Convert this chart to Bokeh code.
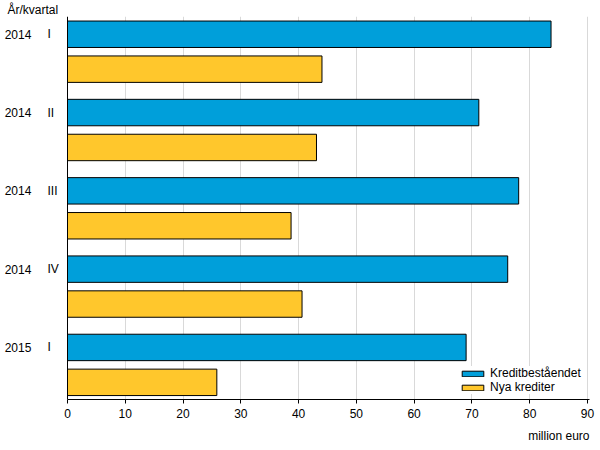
from bokeh.plotting import figure
from bokeh.models import Range1d, Legend, LegendItem, FixedTicker, ColumnDataSource, Span, Title
from bokeh.core.properties import value
from bokeh.embed import file_html
from bokeh.resources import INLINE

# ---- data ----
years = ["2014", "2014", "2014", "2014", "2015"]
quarters = ["I", "II", "III", "IV", "I"]
kreditbestandet = [83.7, 71.2, 78.1, 76.2, 69.0]
nya_krediter = [44.05, 43.1, 38.7, 40.6, 25.85]
x_ticks = [0, 10, 20, 30, 40, 50, 60, 70, 80, 90]
series_names = ["Kreditbeståendet", "Nya krediter"]
colors = ["#009FDA", "#FFC72C"]

FONT = "Liberation Sans"
TXT = "#000000"

# layout helpers (screen scale)
W, H = 600, 450
FRAME_LEFT_PX = 67          # where value 0 sits
PX_PER_UNIT_X = 5.777
X_START = -FRAME_LEFT_PX / PX_PER_UNIT_X
X_END = (W - 11) / PX_PER_UNIT_X + X_START
PITCH = 78.5                # px per group
OFFSET = 35 / PITCH         # second bar offset within group
BAR_H = 26.5 / PITCH

n = len(years)
y_blue = [i for i in range(n)]
y_yellow = [i + OFFSET for i in range(n)]

p = figure(width=W, height=H,
           x_range=Range1d(X_START, X_END),
           y_range=Range1d(4.665, -0.2268),
           y_axis_location=None,
           output_backend="svg", toolbar_location=None,
           min_border_left=0, min_border_right=11,
           min_border_top=15, min_border_bottom=51)

p.title.text = "År/kvartal"
p.title.align = "left"
p.title.offset = 7
p.title.standoff = 0
p.title.text_font = FONT
p.title.text_font_size = "12px"
p.title.text_font_style = "normal"
p.title.text_color = TXT

src_b = ColumnDataSource(dict(y=y_blue, right=kreditbestandet))
src_y = ColumnDataSource(dict(y=y_yellow, right=nya_krediter))
rb = p.hbar(y="y", right="right", left=0, height=BAR_H, source=src_b,
            fill_color=colors[0], line_color="black", line_width=1)
ry = p.hbar(y="y", right="right", left=0, height=BAR_H, source=src_y,
            fill_color=colors[1], line_color="black", line_width=1)

p.outline_line_color = None
p.ygrid.visible = False
p.xgrid.grid_line_color = "#D9D9D9"
p.xgrid.grid_line_width = 1
p.xgrid.ticker = FixedTicker(ticks=x_ticks[1:])

xa = p.xaxis[0]
xa.bounds = (0, X_END)
xa.ticker = FixedTicker(ticks=x_ticks)
xa.axis_line_color = "black"
xa.major_tick_line_color = "black"
xa.major_tick_out = 4
xa.major_tick_in = 0
xa.minor_tick_line_color = None
xa.major_label_standoff = 5
xa.major_label_text_font = FONT
xa.major_label_text_font_size = "12px"
xa.major_label_text_color = TXT

# value axis line (left edge of bars)
p.add_layout(Span(location=0, dimension="height", line_color="black", line_width=1))

# category labels
x_year = (4.2 - FRAME_LEFT_PX) / PX_PER_UNIT_X
x_q = (47 - FRAME_LEFT_PX) / PX_PER_UNIT_X
lab_src = ColumnDataSource(dict(xy=[x_year] * n, xq=[x_q] * n, y=y_blue,
                                year=years, q=quarters))
p.text(x="xy", y="y", text="year", source=lab_src, text_font=value(FONT),
       text_font_size="12px", text_color=TXT, text_baseline="middle", text_align="left")
p.text(x="xq", y="y", text="q", source=lab_src, text_font=value(FONT),
       text_font_size="12px", text_color=TXT, text_baseline="middle", text_align="left")

unit = Title(text="million euro", align="right", text_font=FONT, text_font_size="12px",
             text_font_style="normal", text_color=TXT, standoff=13, offset=0)
p.add_layout(unit, "below")

legend = Legend(items=[LegendItem(label=series_names[0], renderers=[rb]),
                       LegendItem(label=series_names[1], renderers=[ry])],
                location=(459, 5), orientation="vertical",
                glyph_width=27, glyph_height=7, label_standoff=4,
                label_height=13, spacing=0, padding=0, margin=0,
                border_line_color=None, background_fill_color="white",
                background_fill_alpha=1.0,
                label_text_font=FONT, label_text_font_size="12px",
                label_text_color=TXT)
p.add_layout(legend)

open("out.html", "w").write(file_html(p, INLINE))
